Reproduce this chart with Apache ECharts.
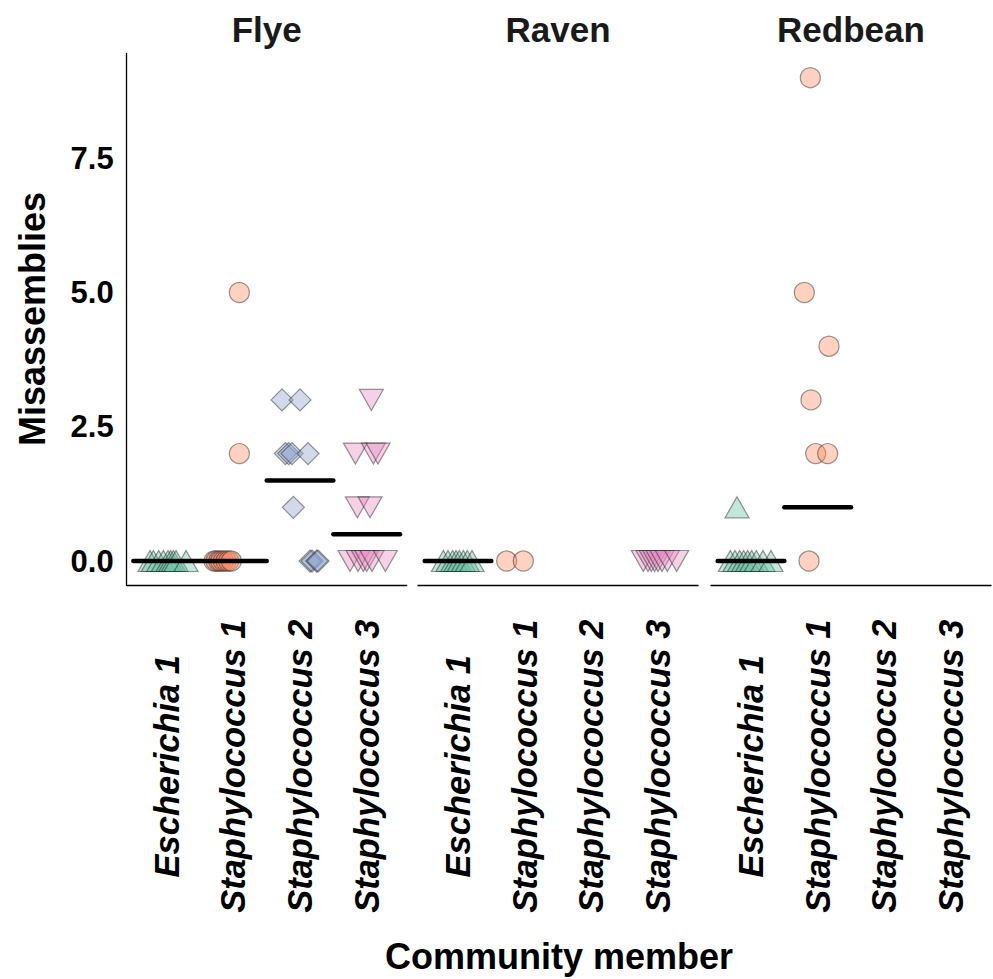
<!DOCTYPE html>
<html>
<head>
<meta charset="utf-8">
<script src="https://cdn.jsdelivr.net/npm/echarts@6/dist/echarts.min.js"></script>
<style>
  html, body { margin: 0; padding: 0; background: #fff; }
  #chart { width: 993px; height: 979px; }
</style>
</head>
<body>
<div id="chart"></div>
<script>
// facets and categories
var panels = ['Flye', 'Raven', 'Redbean'];
var members = ['Escherichia 1', 'Staphylococcus 1', 'Staphylococcus 2', 'Staphylococcus 3'];
var yTicks = [0, 2.5, 5, 7.5];

// misassemblies per assembly, with the horizontal jitter (category units)
var flyeEscherichia1 = [0, 0, 0, 0, 0, 0, 0, 0, 0];
var flyeEscherichia1Jitter = [-0.25, -0.2, -0.12, -0.05, 0.02, 0.06, 0.1, 0.14, 0.29];
var flyeStaph1 = [5, 2, 0, 0, 0, 0, 0, 0, 0, 0];
var flyeStaph1Jitter = [0.09, 0.09, -0.29, -0.26, -0.22, -0.19, -0.15, -0.11, -0.07, -0.03];
var flyeStaph2 = [3, 3, 2, 2, 2, 2, 1, 0, 0, 0, 0];
var flyeStaph2Jitter = [-0.27, 0, -0.22, -0.17, -0.12, 0.12, -0.1, 0.15, 0.18, 0.25, 0.27];
var flyeStaph3 = [3, 2, 2, 2, 1, 1, 0, 0, 0, 0, 0, 0];
var flyeStaph3Jitter = [0.07, -0.17, 0.1, 0.17, -0.14, 0.05, -0.25, -0.13, -0.05, 0, 0.08, 0.28];

var ravenEscherichia1 = [0, 0, 0, 0, 0, 0, 0, 0];
var ravenEscherichia1Jitter = [-0.22, -0.15, -0.08, -0.03, 0.02, 0.08, 0.14, 0.21];
var ravenStaph1 = [0, 0];
var ravenStaph1Jitter = [-0.27, -0.02];
var ravenStaph2 = [];
var ravenStaph2Jitter = [];
var ravenStaph3 = [0, 0, 0, 0, 0, 0, 0, 0];
var ravenStaph3Jitter = [-0.22, -0.15, -0.1, -0.05, 0, 0.06, 0.14, 0.28];

var redbeanEscherichia1 = [1, 0, 0, 0, 0, 0, 0, 0, 0, 0];
var redbeanEscherichia1Jitter = [-0.21, -0.31, -0.24, -0.17, -0.11, -0.05, 0.01, 0.08, 0.18, 0.3];
var redbeanStaph1 = [9, 5, 4, 3, 2, 2, 0];
var redbeanStaph1Jitter = [-0.11, -0.2, 0.17, -0.1, -0.03, 0.15, -0.13];
var redbeanStaph2 = [];
var redbeanStaph2Jitter = [];
var redbeanStaph3 = [];
var redbeanStaph3Jitter = [];

// median bars as drawn (null = no bar)
var flyeMedians = [0, 0, 1.5, 0.5];
var ravenMedians = [0, null, null, null];
var redbeanMedians = [0, 1, null, null];

var values = [
    [flyeEscherichia1, flyeStaph1, flyeStaph2, flyeStaph3],
    [ravenEscherichia1, ravenStaph1, ravenStaph2, ravenStaph3],
    [redbeanEscherichia1, redbeanStaph1, redbeanStaph2, redbeanStaph3]
];
var jitters = [
    [flyeEscherichia1Jitter, flyeStaph1Jitter, flyeStaph2Jitter, flyeStaph3Jitter],
    [ravenEscherichia1Jitter, ravenStaph1Jitter, ravenStaph2Jitter, ravenStaph3Jitter],
    [redbeanEscherichia1Jitter, redbeanStaph1Jitter, redbeanStaph2Jitter, redbeanStaph3Jitter]
];
var medians = [flyeMedians, ravenMedians, redbeanMedians];

var font = 'Liberation Sans, Arial, Helvetica, sans-serif';
var fills = ['rgba(102,194,165,0.5)', 'rgba(252,141,98,0.5)', 'rgba(141,160,203,0.5)', 'rgba(231,138,195,0.5)'];
var symbols = ['triangle', 'circle', 'diamond', 'triangle'];
var symbolSizes = [[24, 21], 20, [22, 22], [24, 21]];
var symbolRotates = [0, 0, 0, 180];

var gridLeft = [126.7, 418, 711];
var gridWidth = 280;
var gridTop = 53.5;
var gridHeight = 531.7;

var grids = [], xAxes = [], yAxes = [], series = [];
panels.forEach(function (p, pi) {
    grids.push({ left: gridLeft[pi], top: gridTop, width: gridWidth, height: gridHeight });
    xAxes.push({
        gridIndex: pi,
        type: 'value',
        min: 0.4,
        max: 4.6,
        axisLine: { show: true, onZero: false, lineStyle: { color: '#000', width: 1.3 } },
        axisTick: { show: false },
        splitLine: { show: false },
        axisLabel: {
            customValues: [1, 2, 3, 4],
            formatter: function (v) { return members[Math.round(v) - 1]; },
            rotate: 90,
            margin: 181,
            align: 'center',
            verticalAlign: 'middle',
            fontFamily: font,
            fontStyle: 'italic',
            fontWeight: 'bold',
            fontSize: 34.5,
            color: '#000'
        }
    });
    yAxes.push({
        gridIndex: pi,
        type: 'value',
        min: -0.45,
        max: 9.45,
        show: pi === 0,
        axisLine: { show: true, onZero: false, lineStyle: { color: '#000', width: 1.3 } },
        axisTick: { show: false },
        splitLine: { show: false },
        axisLabel: {
            customValues: yTicks,
            formatter: function (v) { return v.toFixed(1); },
            margin: 13,
            fontFamily: font,
            fontWeight: 'bold',
            fontSize: 31,
            color: '#000'
        }
    });
    members.forEach(function (m, mi) {
        var vals = values[pi][mi];
        var jit = jitters[pi][mi];
        series.push({
            type: 'scatter',
            xAxisIndex: pi,
            yAxisIndex: pi,
            symbol: symbols[mi],
            symbolSize: symbolSizes[mi],
            symbolRotate: symbolRotates[mi],
            itemStyle: { color: fills[mi], borderColor: 'rgba(40,40,40,0.6)', borderWidth: 1.2 },
            data: vals.map(function (v, i) { return [mi + 1 + jit[i], v]; }),
            silent: true,
            z: 2
        });
        var med = medians[pi][mi];
        if (med !== null) {
            series.push({
                type: 'line',
                xAxisIndex: pi,
                yAxisIndex: pi,
                symbol: 'none',
                lineStyle: { color: '#000', width: 4.5, cap: 'round' },
                data: [[mi + 0.5, med], [mi + 1.5, med]],
                silent: true,
                z: 5
            });
        }
    });
});

var titleStyle = { fontFamily: font, fontWeight: 'bold', fontSize: 35, fill: '#1a1a1a', textAlign: 'center', textVerticalAlign: 'middle' };
var graphics = panels.map(function (p, pi) {
    return { type: 'text', x: gridLeft[pi] + gridWidth / 2, y: 29, style: Object.assign({ text: p }, titleStyle) };
});
graphics.push({ type: 'text', x: 559, y: 956, style: { text: 'Community member', fontFamily: font, fontWeight: 'bold', fontSize: 36, fill: '#000', textAlign: 'center', textVerticalAlign: 'middle' } });
graphics.push({ type: 'text', x: 32, y: 319, rotation: Math.PI / 2, style: { text: 'Misassemblies', fontFamily: font, fontWeight: 'bold', fontSize: 36, fill: '#000', textAlign: 'center', textVerticalAlign: 'middle' } });

var myChart = echarts.init(document.getElementById('chart'), null, { renderer: 'svg' });
myChart.setOption({
    animation: false,
    backgroundColor: '#fff',
    grid: grids,
    xAxis: xAxes,
    yAxis: yAxes,
    series: series,
    graphic: graphics
});
</script>
</body>
</html>
